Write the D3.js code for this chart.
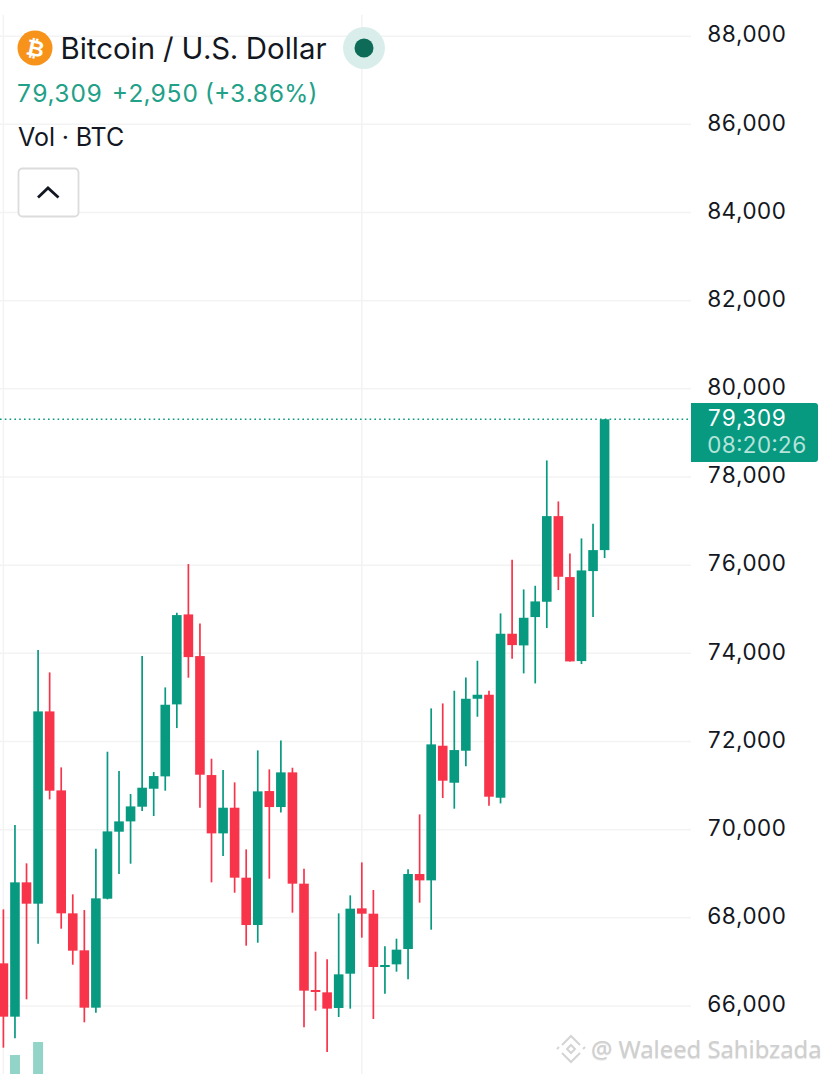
<!DOCTYPE html>
<html>
<head>
<meta charset="utf-8">
<script src="https://cdn.jsdelivr.net/npm/d3@7"></script>
<style>
html, body { margin: 0; padding: 0; background: #fff; overflow: hidden; }
svg { display: block; font-family: Inter, "Liberation Sans", sans-serif; font-variant-numeric: tabular-nums; }
</style>
</head>
<body>
<div id="chart"></div>
<script>
// candles
var opens = [66968,65758,68805,68321,72683,70891,68102,67263,65962,68434,69954,70188,70521,70929,71209,72842,74883,73938,71239,69916,70498,68911,67837,70876,70513,71300,68775,66363,66310,65955,66733,68215,68094,66885,66945,67293,68994,68850,71904,71065,71791,72970,73061,70725,74445,74180,74823,75170,77113,75730,73825,75866,76342];
var highs = [68192,70105,69236,74074,73568,71413,68533,68177,69568,71768,71330,70808,73938,71307,73227,74921,76025,74679,71610,71352,71073,69553,71799,71368,72025,71405,69115,67232,67058,68102,68510,69258,68631,67353,67527,69100,70347,72751,72864,73152,73454,73832,73152,74906,76123,75450,75533,78376,77446,76266,76607,76939,79309];
var lows = [65055,65267,66151,67414,70687,67754,66937,65630,65849,68419,68994,69228,70423,70309,70884,72305,73447,70498,68805,69402,68570,67368,67436,68888,70392,68117,65516,65894,64957,65751,65940,67550,65705,66280,66779,66605,68344,67731,70717,70476,71436,72562,70544,70596,73878,73545,73318,74573,75435,73817,73757,74823,76161];
var closes = [65758,68805,68321,72683,70884,68102,67255,65962,68442,69961,70188,70528,70952,71216,72834,74868,73915,71247,69916,70498,68911,67837,70869,70513,71300,68775,66348,66325,65940,66718,68208,68094,66885,66930,67278,68994,68850,71935,71111,71806,72970,73061,70748,74445,74187,74807,75178,77113,75737,73817,75881,76342,79309];

// only two volume bars reach into the frame
var volIndex = [1, 3];
var volumes = [1900, 3200];

var priceTicks = [66000,68000,70000,72000,74000,76000,78000,80000,82000,84000,86000,88000];
var lastPrice = 79309;
var countdown = "08:20:26";

var width = 828,
	height = 1074,
	plotRight = 691;

var green = "#089981",
	red = "#f7344a",
	gridColor = "#f3f3f4";

var x = d3.scaleLinear().domain([0, 52]).range([3.4, 604.6]);
var y = d3.scaleLinear().domain([66000, 88000]).range([1006, 36.2]);
var v = d3.scaleLinear().domain([0, 4000]).range([1074, 1034]);

var svg = d3.select("#chart").append("svg")
	.attr("width", width)
	.attr("height", height);

// ------------------------ grid
svg.append("g").selectAll("line")
	.data(priceTicks)
	.enter().append("line")
	.attr("x1", 0)
	.attr("x2", plotRight)
	.attr("y1", function(d) { return y(d); })
	.attr("y2", function(d) { return y(d); })
	.attr("stroke", gridColor)
	.attr("stroke-width", 1.5);

// vertical grid sits on candles 0 and 31
svg.append("g").selectAll("line")
	.data([0, 31])
	.enter().append("line")
	.attr("x1", function(d) { return x(d); })
	.attr("x2", function(d) { return x(d); })
	.attr("y1", 15)
	.attr("y2", height)
	.attr("stroke", gridColor)
	.attr("stroke-width", 1.5);

// ------------------------ volume
svg.append("g").selectAll("rect")
	.data(volumes)
	.enter().append("rect")
	.attr("x", function(d, i) { return x(volIndex[i]) - 5; })
	.attr("width", 10)
	.attr("y", function(d) { return v(d); })
	.attr("height", function(d) { return v(0) - v(d); })
	.attr("fill", "#93d4c8");

// ------------------------ candles
var candle = svg.append("g").selectAll("g")
	.data(d3.range(opens.length))
	.enter().append("g")
	.attr("fill", function(i) { return closes[i] >= opens[i] ? green : red; })
	.attr("stroke", function(i) { return closes[i] >= opens[i] ? green : red; });

candle.append("line")
	.attr("x1", function(i) { return x(i); })
	.attr("x2", function(i) { return x(i); })
	.attr("y1", function(i) { return y(highs[i]); })
	.attr("y2", function(i) { return y(lows[i]); })
	.attr("stroke-width", 1.7);

candle.append("rect")
	.attr("x", function(i) { return x(i) - 4.8; })
	.attr("width", 9.6)
	.attr("y", function(i) { return y(Math.max(opens[i], closes[i])); })
	.attr("height", function(i) { return Math.max(2, Math.abs(y(opens[i]) - y(closes[i]))); })
	.attr("stroke", "none");

// ------------------------ last price line
svg.append("line")
	.attr("x1", 0)
	.attr("x2", plotRight)
	.attr("y1", y(lastPrice))
	.attr("y2", y(lastPrice))
	.attr("stroke", green)
	.attr("stroke-width", 1.5)
	.attr("stroke-dasharray", "1.6 3.2");

// ------------------------ price axis
var axis = svg.append("g")
	.attr("transform", "translate(707,-1.5)")
	.call(d3.axisRight(y).tickValues(priceTicks).tickSize(0).tickPadding(0).tickFormat(d3.format(",")));
axis.select(".domain").remove();
axis.selectAll("text")
	.attr("font-family", "Inter, sans-serif")
	.attr("font-size", 22.5)
	.attr("fill", "#131722");

// label box, square on the left, rounded on the right
svg.append("path")
	.attr("d", "M691,403H815a3,3 0 0 1 3,3V459a3,3 0 0 1 -3,3H691Z")
	.attr("fill", green);
svg.append("text")
	.attr("x", 707)
	.attr("y", 426)
	.attr("font-size", 22.5)
	.attr("fill", "#fff")
	.text(d3.format(",")(lastPrice));
svg.append("text")
	.attr("x", 707)
	.attr("y", 453)
	.attr("font-size", 22.5)
	.attr("fill", "#b5e3da")
	.text(countdown);

// ------------------------ header
svg.append("circle").attr("cx", 35).attr("cy", 48).attr("r", 17.5).attr("fill", "#f7931a");
svg.append("text")
	.attr("x", 35.5)
	.attr("y", 56)
	.attr("text-anchor", "middle")
	.attr("font-family", "'DejaVu Sans', sans-serif")
	.attr("font-weight", "bold")
	.attr("font-size", 22)
	.attr("fill", "#fff")
	.attr("transform", "rotate(12,35,48)")
	.text("\u20bf");

svg.append("text")
	.attr("x", 60.5)
	.attr("y", 59)
	.attr("font-size", 29.4)
	.attr("fill", "#131722")
	.text("Bitcoin / U.S. Dollar");

svg.append("circle").attr("cx", 364).attr("cy", 48).attr("r", 21).attr("fill", "#d9eeea");
svg.append("circle").attr("cx", 364).attr("cy", 48).attr("r", 9.5).attr("fill", "#0d6b58");

svg.append("text")
	.attr("x", 16)
	.attr("y", 102)
	.attr("font-size", 24.5)
	.attr("fill", "#22a088")
	.text("79,309");
svg.append("text")
	.attr("x", 112)
	.attr("y", 102)
	.attr("font-size", 24.5)
	.attr("fill", "#22a088")
	.text("+2,950 (+3.86%)");

svg.append("text")
	.attr("x", 18)
	.attr("y", 146)
	.attr("font-size", 25)
	.attr("fill", "#131722")
	.text("Vol \u00b7 BTC");

svg.append("rect")
	.attr("x", 18.5)
	.attr("y", 168.5)
	.attr("width", 60)
	.attr("height", 48)
	.attr("rx", 4)
	.attr("fill", "#fff")
	.attr("stroke", "#dcdcdc")
	.attr("stroke-width", 1.8);
svg.append("path")
	.attr("d", "M38,197.5L48,188L58.5,197.5")
	.attr("fill", "none")
	.attr("stroke", "#131722")
	.attr("stroke-width", 2.8);

// ------------------------ watermark
var mark = svg.append("g")
	.attr("fill", "none")
	.attr("stroke", "#d4d4d4")
	.attr("stroke-width", 2);
mark.append("path").attr("d", "M562,1045L571,1036L580,1045");
mark.append("path").attr("d", "M562,1053L571,1062L580,1053");
mark.append("path").attr("d", "M567,1049L571,1045L575,1049L571,1053Z");
mark.append("path").attr("d", "M557,1049L559,1047M583,1049L585,1047");

svg.append("text")
	.attr("x", 591)
	.attr("y", 1058)
	.attr("font-family", "'Noto Sans', sans-serif")
	.attr("font-size", 23.8)
	.attr("fill", "#cfcfcf")
	.style("text-shadow", "0 1px 1px rgba(0,0,0,0.12)")
	.text("@ Waleed Sahibzada");
</script>
</body>
</html>
